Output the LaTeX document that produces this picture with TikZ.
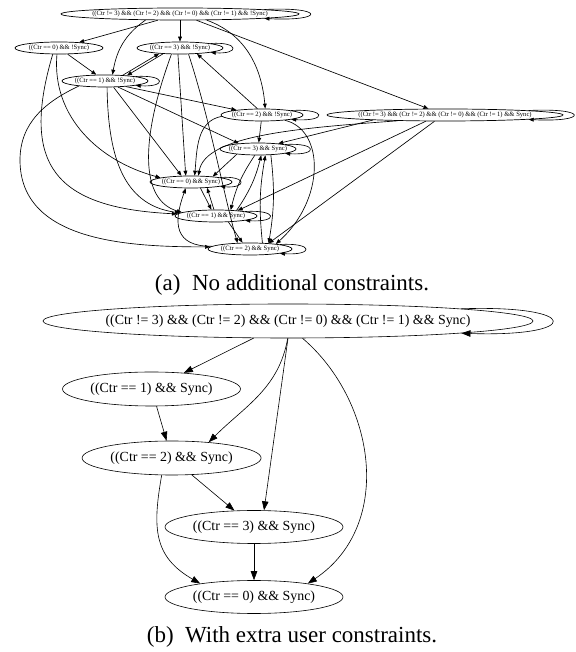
\documentclass[tikz,border=0pt]{standalone}
\usepackage{fontspec}
\setmainfont{Liberation Serif}
\usetikzlibrary{calc,arrows.meta,positioning,shapes.geometric}
\newcommand{\statetext}[1]{\makebox[0pt]{#1}}

\begin{document}
\begin{tikzpicture}[x=1pt,y=1pt]
	\tikzstyle{small} = [ellipse,draw,line width=0.7pt,inner sep=0pt,minimum height=12pt,font=\fontsize{6.6}{7}\selectfont]
	\tikzstyle{big} = [ellipse,draw,line width=0.6pt,inner sep=0pt,minimum height=34pt,font=\fontsize{13.9}{15}\selectfont]
	\tikzstyle{edgeA} = [-{Triangle[length=5pt,width=3.8pt]},line width=0.65pt]
	\tikzstyle{edgeB} = [-{Triangle[length=9pt,width=6.5pt]},line width=0.6pt]
	\tikzstyle{caption} = [font=\fontsize{23}{25}\selectfont]

	\useasboundingbox (0,0) rectangle (575,652);

	% (a) all states
	\node[small,minimum width=238pt] (TA) at (180,638) {\statetext{((Ctr != 3) \&\& (Ctr != 2) \&\& (Ctr != 0) \&\& (Ctr != 1) \&\& !Sync)}};
	\node[small,minimum width=88pt] (A0) at (59,604) {\statetext{((Ctr == 0) \&\& !Sync)}};
	\node[small,minimum width=86pt] (A3) at (180,604) {\statetext{((Ctr == 3) \&\& !Sync)}};
	\node[small,minimum width=86pt] (A1) at (105,571) {\statetext{((Ctr == 1) \&\& !Sync)}};
	\node[small,minimum width=82pt] (A2) at (262,537) {\statetext{((Ctr == 2) \&\& !Sync)}};
	\node[small,minimum width=236pt] (TB) at (445,537) {\statetext{((Ctr != 3) \&\& (Ctr != 2) \&\& (Ctr != 0) \&\& (Ctr != 1) \&\& Sync)}};
	\node[small,minimum width=76pt] (C3) at (258,503) {\statetext{((Ctr == 3) \&\& Sync)}};
	\node[small,minimum width=82pt] (C0) at (191,470) {\statetext{((Ctr == 0) \&\& Sync)}};
	\node[small,minimum width=82pt] (C1) at (216,436) {\statetext{((Ctr == 1) \&\& Sync)}};
	\node[small,minimum width=84pt] (C2) at (250,403) {\statetext{((Ctr == 2) \&\& Sync)}};
	\node[caption] (capA) at (292,367) {(a)\enspace No additional constraints.};

	\draw[edgeA] (TA) -- (A0);
	\draw[edgeA] (TA) -- (A3);
	\draw[edgeA] (TA.190) to[out=-145,in=80] (A1.40);
	\draw[edgeA] (TA.-13) to[out=-20,in=95] (A2.63);
	\draw[edgeA] (TA) -- (TB);
	\draw[edgeA] (TA.north east) .. controls +(61,3) and +(61,-3) .. (TA.south east);

	\draw[edgeA] (A0) -- (A1);
	\draw[edgeA] (A0.-108) to[out=-95,in=165] (C0.172);
	\draw[edgeA] (A0.-135) .. controls (20,487) and (55,444) .. (C1.177);

	\draw[edgeA] (A1.north east) .. controls +(31,2) and +(31,-2) .. (A1.south east);
	\draw[edgeA] (A1.18) -- (A3.-165);
	\draw[edgeA] (A3.-161) -- (A1.14);
	\draw[edgeA] (A1.-15) -- (A2.169);
	\draw[edgeA] (A1.-25) -- (C3.164);
	\draw[edgeA] (A1.-36) -- (C0.147);
	\draw[edgeA] (A1.-72) .. controls +(1,-63) and +(-60,8) .. (C1.175);
	\draw[edgeA] (A1.-169) to[out=205,in=90] (20,492) to[out=-90,in=180] (C2.177);

	\draw[edgeA] (A3.north east) .. controls +(29,2) and +(29,-2) .. (A3.south east);
	\draw[edgeA] (A3.-108) -- (C0.130);
	\draw[edgeA] (A3.-144) .. controls (140,512) and (140,452) .. (C1.174);
	\draw[edgeA] (A3.-36) .. controls (210,532) and (225,452) .. (C2.154);

	\draw[edgeA] (A2.north east) .. controls +(36,2) and +(36,-2) .. (A2.south east);
	\draw[edgeA] (A2.126) -- (A3.-19);
	\draw[edgeA] (A2) -- (C3);
	\draw[edgeA] (A2.-178) to[out=-170,in=85] (C0.60);
	\draw[edgeA] (A2.-13) .. controls (325,522) and (325,452) .. (C2.11);

	\draw[edgeA] (TB.north east) .. controls +(60,3) and +(60,-3) .. (TB.south east);
	\draw[edgeA] (TB.-173) .. controls (300,524) and (205,517) .. (C0.40);
	\draw[edgeA] (TB.-176) -- (C3.15);
	\draw[edgeA] (TB.-162) -- (C1.14);
	\draw[edgeA] (TB.-149) -- (C2.17);

	\draw[edgeA] (C3.north east) .. controls +(33,2) and +(33,-2) .. (C3.south east);
	\draw[edgeA] (C0.north east) .. controls +(27,2) and +(27,-2) .. (C0.south east);
	\draw[edgeA] (C1.north east) .. controls +(33,2) and +(33,-2) .. (C1.south east);
	\draw[edgeA] (C2.north east) .. controls +(34,2) and +(34,-2) .. (C2.south east);

	\draw[edgeA] (C3.-166) -- (C0.14);
	\draw[edgeA] (C3.-117) to[bend right=10] (C1.22);
	\draw[edgeA] (C1.15) to[bend right=10] (C3.-63);
	\draw[edgeA] (C2.26) to[bend left=8] (C3.-40);
	\draw[edgeA] (C3.-25) to[bend left=8] (C2.17);
	\draw[edgeA] (C0.-33) -- (C1.126);
	\draw[edgeA] (C1.108) -- (C0.-20);
	\draw[edgeA] (C1.-26) -- (C2.140);
	\draw[edgeA] (C2.176) to[out=180,in=-110,looseness=1.5] (C0.-130);

	% (b) with user constraints
	\node[big,minimum width=490pt] (B0) at (288,331) {\statetext{((Ctr != 3) \&\& (Ctr != 2) \&\& (Ctr != 0) \&\& (Ctr != 1) \&\& Sync)}};
	\node[big,minimum width=178pt] (B1) at (151.5,263) {\statetext{((Ctr == 1) \&\& Sync)}};
	\node[big,minimum width=179pt] (B2) at (171.6,194) {\statetext{((Ctr == 2) \&\& Sync)}};
	\node[big,minimum width=178pt,minimum height=33pt] (B3) at (254,125) {\statetext{((Ctr == 3) \&\& Sync)}};
	\node[big,minimum width=178pt,minimum height=33pt] (B4) at (254,55) {\statetext{((Ctr == 0) \&\& Sync)}};
	\node[caption] (capB) at (292,15) {(b)\enspace With extra user constraints.};

	\draw[edgeB] (B0.north east) .. controls +(121,4) and +(121,-4) .. (B0.south east);
	\draw[edgeB] (B0) -- (B1);
	\draw[edgeB] (B1) -- (B2);
	\draw[edgeB] (B0.-91) to[out=-100,in=45] (B2.23);
	\draw[edgeB] (B0.south) -- (B3.59);
	\draw[edgeB] (B0.-50) .. controls (375,252) and (395,127) .. (B4.14);
	\draw[edgeB] (B2) -- (B3);
	\draw[edgeB] (B2.-120) to[out=-100,in=150,looseness=1.2] (B4.166);
	\draw[edgeB] (B3) -- (B4);
\end{tikzpicture}
\end{document}
